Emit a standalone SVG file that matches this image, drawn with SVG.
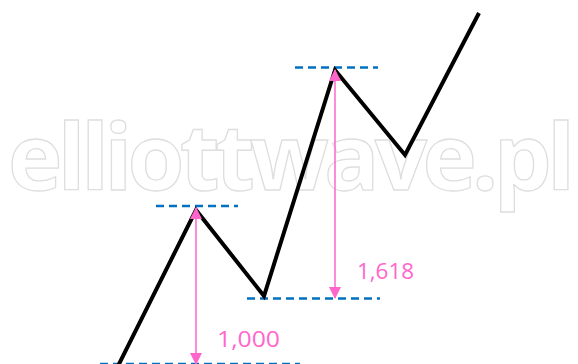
<svg xmlns="http://www.w3.org/2000/svg" width="578" height="364" viewBox="0 0 578 364">
  <style>
    .wm { font-family: "Open Sans", "Liberation Sans", sans-serif; font-size: 92px; font-weight: bold; fill: #ffffff; stroke: #dedede; stroke-width: 1.3; }
    .wave { fill: none; stroke: #000000; stroke-width: 4; stroke-linejoin: miter; stroke-linecap: butt; }
    .level { fill: none; stroke: #0070c0; stroke-width: 2.5; stroke-dasharray: 8 5; }
    .measure { fill: none; stroke: #ff66cc; stroke-width: 1.5; }
    .label { font-family: "Open Sans", "Liberation Sans", sans-serif; font-size: 22px; fill: #ff66cc; }
  </style>
  <defs>
    <marker id="ah" viewBox="0 0 12 12" refX="11" refY="6" markerWidth="12" markerHeight="12" orient="auto-start-reverse" markerUnits="userSpaceOnUse">
      <path d="M0,0 L12,6 L0,12 Z" fill="#ff66cc"/>
    </marker>
  </defs>
  <rect width="578" height="364" fill="#ffffff"/>
  <text class="wm" x="8" y="190" textLength="567" lengthAdjust="spacing">elliottwave.pl</text>
  <g id="levels">
    <line id="level-1000-base" class="level" x1="100" y1="364" x2="300" y2="364"/>
    <line id="level-wave1-top" class="level" x1="156" y1="206" x2="238" y2="206"/>
    <line id="level-wave2-low" class="level" x1="247" y1="298.5" x2="380" y2="298.5"/>
    <line id="level-wave3-top" class="level" x1="295" y1="67.5" x2="378" y2="67.5"/>
  </g>
  <g id="wave">
    <polyline class="wave" points="118,366 196,210 264,296 335,70 405,155 479,13"/>
  </g>
  <g id="connectors">
    <line class="measure" x1="196" y1="208" x2="196" y2="364" marker-start="url(#ah)" marker-end="url(#ah)"/>
    <line class="measure" x1="335" y1="70" x2="335" y2="298" marker-start="url(#ah)" marker-end="url(#ah)"/>
  </g>
  <g id="label-1000"><text class="label" x="217" y="346.5" textLength="63" lengthAdjust="spacingAndGlyphs">1,000</text></g>
  <g id="label-1618"><text class="label" x="357" y="279" textLength="57" lengthAdjust="spacingAndGlyphs">1,618</text></g>
</svg>
